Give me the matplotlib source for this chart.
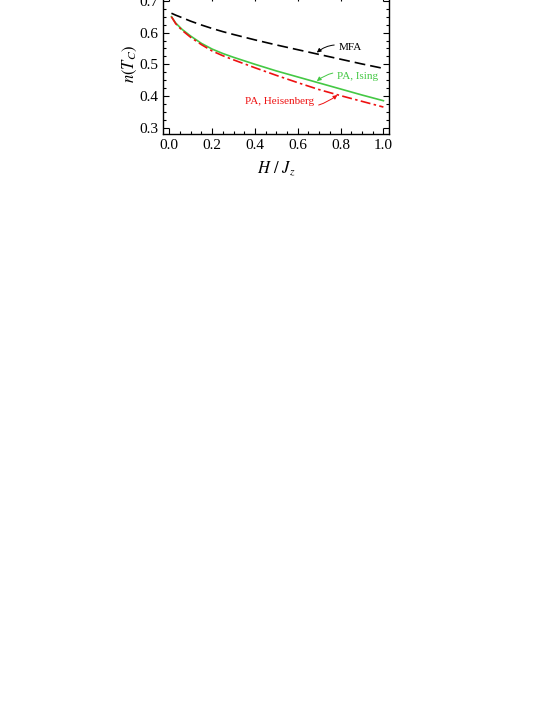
import matplotlib
matplotlib.use('Agg')
import matplotlib.pyplot as plt
from matplotlib.ticker import MultipleLocator
import numpy as np

plt.rcParams['font.family'] = ['Liberation Serif', 'DejaVu Serif']
plt.rcParams['mathtext.fontset'] = 'stix'

# values
h = [0.01, 0.03, 0.06, 0.1, 0.15, 0.2, 0.25, 0.3, 0.4, 0.5, 0.6, 0.7, 0.8, 0.9, 1.0]
n_mfa = [0.661, 0.655, 0.647, 0.636, 0.624, 0.613, 0.603, 0.594, 0.577, 0.561,
         0.546, 0.531, 0.516, 0.501, 0.487]
n_ising = [0.650, 0.630, 0.610, 0.589, 0.566, 0.548, 0.534, 0.522, 0.500, 0.479,
           0.460, 0.441, 0.422, 0.403, 0.385]
n_heis = [0.650, 0.628, 0.607, 0.585, 0.562, 0.542, 0.527, 0.514, 0.489, 0.465,
          0.442, 0.420, 0.401, 0.383, 0.365]

xticks = [0.0, 0.2, 0.4, 0.6, 0.8, 1.0]
yticks = [0.3, 0.4, 0.5, 0.6, 0.7]

fig = plt.figure(figsize=(5.53, 7.15), dpi=100)
ax = fig.add_axes([0.2953, 0.8126, 0.4081, 0.195])

ax.plot(h, n_mfa, color='black', lw=1.2, dashes=(6.5, 3))
ax.plot(h, n_ising, color='#44c844', lw=1.2)
ax.plot(h, n_heis, color='#ee1111', lw=1.2, dashes=(6, 2, 1.5, 2))

ax.set_xlim(-0.028, 1.026)
ax.set_ylim(0.28, 0.72)
ax.set_xticks(xticks)
ax.set_yticks(yticks)
ax.set_xticklabels(['%.1f' % v for v in xticks])
ax.set_yticklabels(['%.1f' % v for v in yticks])
ax.xaxis.set_minor_locator(MultipleLocator(0.05))
ax.yaxis.set_minor_locator(MultipleLocator(0.025))
ax.tick_params(which='both', direction='in', top=True, right=True, labelsize=11, width=0.8)
ax.tick_params(which='major', length=4)
ax.tick_params(which='minor', length=2.5)
for s in ax.spines.values():
    s.set_linewidth(1.0)

ax.set_xlabel(r'$H\ /\ J_z$', fontsize=12, labelpad=6)
ax.set_ylabel(r'$n(T_C)$', fontsize=12, labelpad=0)

arr = dict(arrowstyle='-|>', lw=0.7, mutation_scale=6, shrinkA=1, shrinkB=0)
ax.annotate('MFA', xy=(0.689, 0.537), xytext=(0.844, 0.552), fontsize=8,
            ha='center', va='center', color='black',
            arrowprops=dict(arr, color='black', connectionstyle='arc3,rad=0.3'))
ax.annotate('PA, Ising', xy=(0.689, 0.447), xytext=(0.879, 0.463), fontsize=8,
            ha='center', va='center', color='#44c844',
            arrowprops=dict(arr, color='#44c844', connectionstyle='arc3,rad=0.3'))
ax.annotate('PA, Heisenberg', xy=(0.785, 0.403), xytext=(0.517, 0.382), fontsize=8,
            ha='center', va='center', color='#ee1111',
            arrowprops=dict(arr, color='#ee1111', connectionstyle='arc3,rad=0.3'))

fig.savefig('out.png', dpi=100)
